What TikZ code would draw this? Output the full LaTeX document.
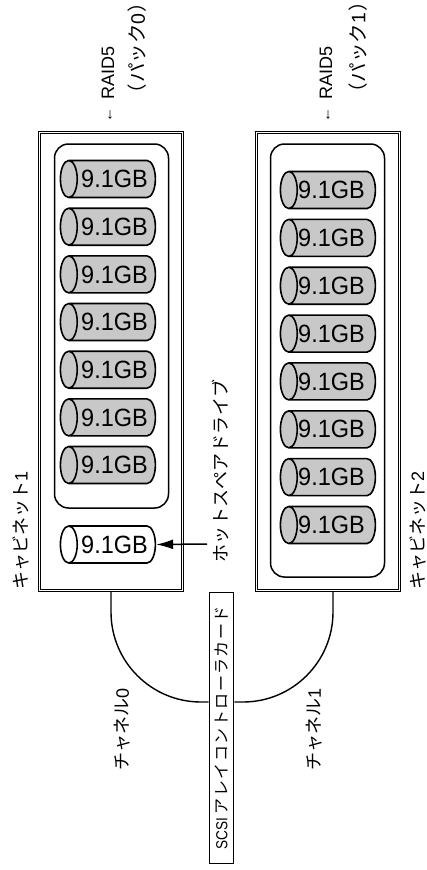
\documentclass[tikz,border=0pt]{standalone}
\usepackage{fontspec}
\setmainfont{Liberation Sans}
\newfontfamily\jpfont{Noto Sans CJK JP}
\newfontfamily\jpwide[LetterSpace=3]{Noto Sans CJK JP}
\newfontfamily\jpcard[LetterSpace=9]{Noto Sans CJK JP}
\newfontfamily\jphalf[RawFeature=+halt]{Noto Sans CJK JP}
\usepackage{graphicx}
\usetikzlibrary{arrows.meta,shapes.geometric}
\definecolor{diskgray}{HTML}{C8C8C8}
\newcommand{\jp}[1]{{\jpfont #1}}
\tikzset{
  cabinet/.style={draw,double,double distance=1.3pt,line width=0.9pt,minimum width=142.5pt,minimum height=457.5pt,inner sep=0pt,outer sep=0pt},
  pack/.style={draw,line width=1.5pt,rounded corners=14pt,minimum width=114pt,inner sep=0pt},
  disk/.style={draw,cylinder,shape border rotate=180,shape aspect=0.95,line width=1.6pt,fill=diskgray,
    minimum width=37pt,minimum height=95pt,inner sep=0pt,font=\fontsize{25}{25}\selectfont},
  sparedisk/.style={disk,fill=white},
  card/.style={draw,line width=1.6pt,minimum width=271pt,minimum height=24pt,inner sep=0pt,rotate=90,
    font=\fontsize{16}{16}\selectfont},
  lbl/.style={rotate=90,anchor=west,inner sep=0pt,font=\fontsize{18}{18}\selectfont},
  wire/.style={line width=1.4pt,rounded corners=90pt},
  arr/.style={-{Latex[length=17pt,width=10pt]},line width=1.5pt},
}
\newcommand{\diskname}[1]{\makebox[0pt]{\hspace{#1}\scalebox{0.94}[1]{9.1GB}}}
\newcommand{\bundlename}[1]{{\jphalf （}\hspace{1pt}\jp{パック}#1\hspace{1pt}{\jphalf ）}}
\newcommand{\raidname}{\makebox[23pt][l]{\raisebox{1.5pt}{\fontsize{15}{15}\selectfont ←}}RAID5}
\begin{document}
\begin{tikzpicture}[x=1pt,y=-1pt]
  \useasboundingbox (0,0) rectangle (427,870);
  % cabinets
  \node[cabinet] (cab1) at (111,361.5) {};
  \node[cabinet] (cab2) at (328,361.5) {};
  \node[pack,minimum height=364pt] (pack0) at (111.5,326) {};
  \node[pack,minimum height=433pt] (pack1) at (327.5,360.5) {};
  % disks
  \foreach \i/\y in {1/179,2/226.7,3/274.4,4/322,5/369.7,6/417.4,7/465}
    \node[disk] (pack0d\i) at (112.5,\y) {\diskname{4pt}};
  \foreach \i/\y in {1/190,2/237.9,3/285.7,4/333.6,5/381.4,6/429.3,7/477.1,8/525}
    \node[disk] (pack1d\i) at (332.5,\y) {\diskname{-2pt}};
  \node[sparedisk] (spare) at (112.5,544.5) {\diskname{4pt}};
  % labels
  \node[lbl] (raid0) at (108,123) {\raidname};
  \node[lbl,font=\fontsize{19.5}{20}\selectfont] (bundle0) at (137.5,93.5) {\bundlename{0}};
  \node[lbl] (raid1) at (326,123) {\raidname};
  \node[lbl,font=\fontsize{19.5}{20}\selectfont] (bundle1) at (358,93) {\bundlename{1}};
  \node[lbl] (cabname1) at (21,590) {\jp{キャビネット}1};
  \node[lbl] (cabname2) at (417.5,590) {\jp{キャビネット}2};
  \node[lbl] (chname0) at (122.5,771) {\jp{チャネル}0};
  \node[lbl] (chname1) at (314.5,771) {\jp{チャネル}1};
  \node[lbl] (sparename) at (220.5,563) {{\jpwide ホットスペアドライブ}};
  % controller
  \node[card] (ctrl) at (221.5,728) {\scalebox{0.85}[1]{SCSI}\hspace{4pt}{\jpcard アレイコントローラカード}};
  % connectors
  \coordinate (ch0in) at (ctrl.north |- 0,702);
  \coordinate (ch1in) at (ctrl.south |- 0,702);
  \coordinate (ch0out) at (111,592);
  \coordinate (ch1out) at (333,592);
  \coordinate (sparefrom) at (207,544);
  \draw[wire] (ch0out) |- (ch0in);
  \draw[wire] (ch1out) |- (ch1in);
  \draw[arr] (sparefrom) -- (spare.east);
\end{tikzpicture}
\end{document}
